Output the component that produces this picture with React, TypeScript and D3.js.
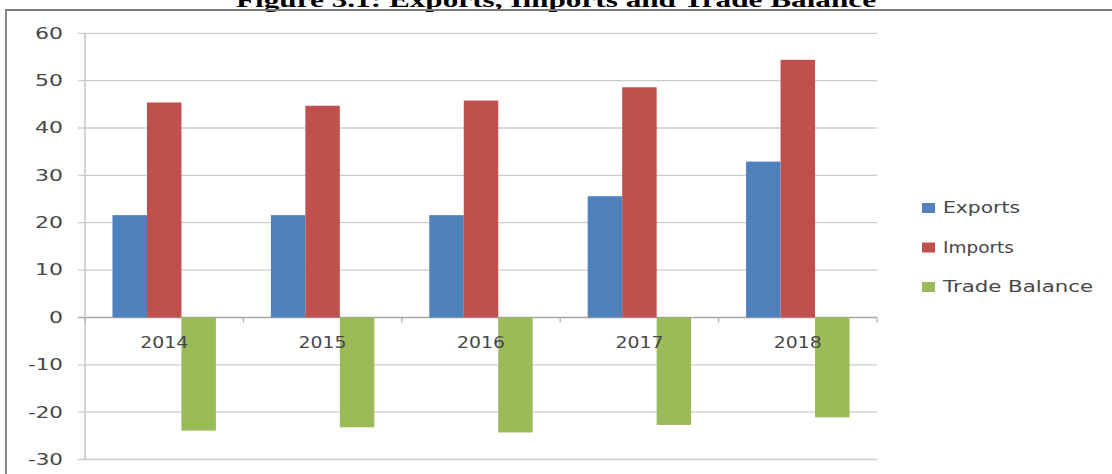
import React from "react";
import * as d3 from "d3";

const years = ["2014", "2015", "2016", "2017", "2018"];
const seriesNames = ["Exports", "Imports", "Trade Balance"];
const exportsVals = [21.6, 21.6, 21.6, 25.6, 32.9];
const importsVals = [45.4, 44.7, 45.8, 48.6, 54.4];
const tradeBalanceVals = [-23.9, -23.2, -24.3, -22.7, -21.1];
const yTicks = [60, 50, 40, 30, 20, 10, 0, -10, -20, -30];
const colors = ["#4F81BD", "#C0504D", "#9BBB59"];
const title = "Figure 3.1: Exports, Imports and Trade Balance";

const W = 1112;
const H = 474;

export default function App() {
  const values = [exportsVals, importsVals, tradeBalanceVals];
  const x = d3.scaleBand<string>().domain(years).range([85, 877]).paddingInner(0.347).paddingOuter(0.1735);
  const xs = d3.scaleBand<string>().domain(seriesNames).range([0, x.bandwidth()]).padding(0);
  const y = d3.scaleLinear().domain([-30, 60]).range([459.5, 33.3]);
  const step = x.step();
  const textColor = "#474747";
  const font = "'DejaVu Sans', Verdana, sans-serif";

  return (
    <svg width={W} height={H} style={{ position: "absolute", left: 0, top: 0, background: "#fff" }}>
      <rect x={0} y={0} width={W} height={H} fill="#fff" />
      {/* title (cut off at top, as in the reference) */}
      <text
        x={556}
        y={7}
        textAnchor="middle"
        fontFamily="'Liberation Serif', 'Times New Roman', serif"
        fontWeight="bold"
        fontSize={21}
        fill="#000"
        textLength={640}
        lengthAdjust="spacingAndGlyphs"
      >
        {title}
      </text>
      {/* frame */}
      <line x1={5} x2={W} y1={10} y2={10} stroke="#7a7a7a" strokeWidth={2} />
      <line x1={6} x2={6} y1={10} y2={H} stroke="#8a8a8a" strokeWidth={2} />

      {/* gridlines */}
      {yTicks.map((t) => (
        <line key={"g" + t} x1={78} x2={877} y1={y(t)} y2={y(t)} stroke={t === 0 ? "#a6a6a6" : "#cccccc"} strokeWidth={t === 0 ? 1.5 : 1.3} />
      ))}
      {/* y axis */}
      <line x1={85} x2={85} y1={y(60)} y2={y(-30)} stroke="#c4c4c4" strokeWidth={1.5} />
      {yTicks.map((t) => (
        <text
          key={"yl" + t}
          x={63}
          y={y(t)}
          dy="0.36em"
          textAnchor="end"
          fontFamily={font}
          fontSize={15}
          fill={textColor}
          textLength={String(t).length === 1 ? 14 : String(t).length === 2 ? 28 : 35}
          lengthAdjust="spacingAndGlyphs"
        >
          {t}
        </text>
      ))}
      {/* category ticks on the zero line */}
      {d3.range(years.length + 1).map((i) => (
        <line key={"ct" + i} x1={85 + i * step} x2={85 + i * step} y1={y(0)} y2={y(0) + 5} stroke="#b0b0b0" strokeWidth={1.3} />
      ))}

      {/* bars */}
      {values.map((vals, si) =>
        vals.map((v, i) => (
          <rect
            key={`b${si}-${i}`}
            x={(x(years[i]) as number) + (xs(seriesNames[si]) as number)}
            y={y(Math.max(0, v))}
            width={xs.bandwidth()}
            height={Math.abs(y(v) - y(0))}
            fill={colors[si]}
          />
        ))
      )}

      {/* category labels */}
      {years.map((yr) => (
        <text
          key={"xl" + yr}
          x={(x(yr) as number) + x.bandwidth() / 2}
          y={343}
          dy="0.36em"
          textAnchor="middle"
          fontFamily={font}
          fontSize={15}
          fill={textColor}
          textLength={48}
          lengthAdjust="spacingAndGlyphs"
        >
          {yr}
        </text>
      ))}

      {/* legend */}
      {seriesNames.map((s, i) => {
        const cy = 208 + i * 39.5;
        const widths = [77, 71, 150];
        return (
          <g key={"lg" + s}>
            <rect x={922} y={cy - 5} width={13} height={10} fill={colors[i]} />
            <text
              x={943}
              y={cy}
              dy="0.36em"
              fontFamily={font}
              fontSize={15}
              fill={textColor}
              textLength={widths[i]}
              lengthAdjust="spacingAndGlyphs"
            >
              {s}
            </text>
          </g>
        );
      })}
    </svg>
  );
}
